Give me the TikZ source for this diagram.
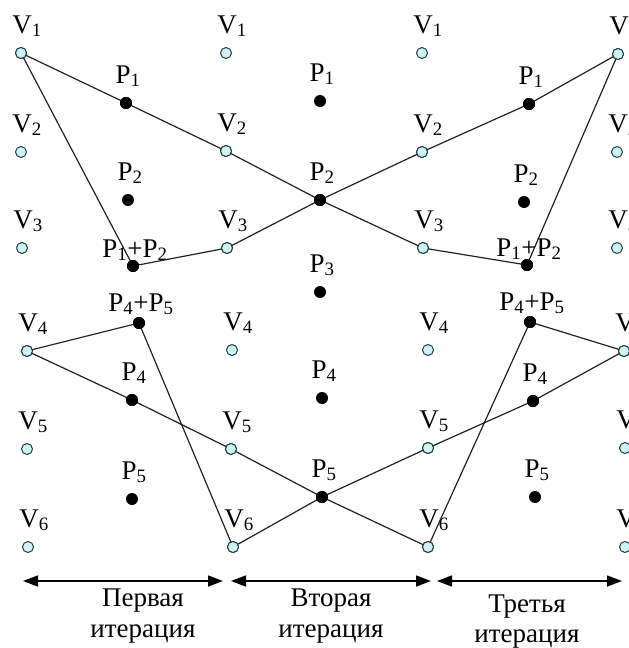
\documentclass[tikz,border=0pt]{standalone}
\usepackage{fontspec}
\setmainfont{Liberation Serif}
\usetikzlibrary{arrows.meta}
\definecolor{vfill}{HTML}{CDF3F3}
\definecolor{vline}{HTML}{1F3F45}
\definecolor{eline}{HTML}{222222}
\newcommand\vn[4]{\node[vnode] (#1) at (#2,#3) {};
  \node[lab] (#1l) at ([xshift=6pt,yshift=20pt]#1) {V\textsubscript{#4}};}
\newcommand\pn[5]{\node[pnode] (#1) at (#2,#3) {};
  \node[lab] (#1l) at ([xshift=2pt,yshift=#5]#1) {#4};}
\begin{document}
\begin{tikzpicture}[x=1pt,y=-1pt,
  vnode/.style={circle,draw=vline,fill=vfill,line width=1pt,minimum size=11pt,inner sep=0pt},
  pnode/.style={circle,fill=black,minimum size=12pt,inner sep=0pt},
  lab/.style={anchor=base,inner sep=0pt,font=\fontsize{27}{32}\selectfont},
  edge/.style={draw=eline,line width=1.2pt},
  spanarrow/.style={draw=black,line width=1.4pt,{Triangle[length=15pt,width=11pt]}-{Triangle[length=15pt,width=11pt]}},
  captext/.style={anchor=base,inner sep=0pt,font=\fontsize{27}{31}\selectfont}]
\useasboundingbox (0,0) rectangle (629,648);
% column 1
\vn{a1}{21}{53}{1}\vn{a2}{21}{152}{2}\vn{a3}{22}{248}{3}
\vn{a4}{27}{351}{4}\vn{a5}{27}{449}{5}\vn{a6}{28}{547}{6}
% column 2
\vn{b1}{226}{53}{1}\vn{b2}{226}{151}{2}\vn{b3}{227}{248}{3}
\vn{b4}{232}{350}{4}\vn{b5}{231}{449}{5}\vn{b6}{233}{547}{6}
% column 3
\vn{c1}{422}{53}{1}\vn{c2}{422}{152}{2}\vn{c3}{423}{248}{3}
\vn{c4}{428}{350}{4}\vn{c5}{428}{448}{5}\vn{c6}{428}{547}{6}
% column 4
\vn{d1}{618}{54}{1}\vn{d2}{617}{152}{2}\vn{d3}{617}{248}{3}
\vn{d4}{624}{351}{4}\vn{d5}{625}{448}{5}\vn{d6}{625}{547}{6}
% P nodes, first
\pn{p11}{126}{103}{P\textsubscript{1}}{20pt}
\pn{p12}{128}{200}{P\textsubscript{2}}{20pt}
\pn{p1s}{133}{266}{P\textsubscript{1}+P\textsubscript{2}}{9pt}
\pn{p1t}{139}{323}{P\textsubscript{4}+P\textsubscript{5}}{12pt}
\pn{p14}{132}{400}{P\textsubscript{4}}{20pt}
\pn{p15}{132}{499}{P\textsubscript{5}}{20pt}
% middle
\pn{m1}{320}{101}{P\textsubscript{1}}{20pt}
\pn{m2}{320}{200}{P\textsubscript{2}}{20pt}
\pn{m3}{320}{292}{P\textsubscript{3}}{20pt}
\pn{m4}{322}{398}{P\textsubscript{4}}{20pt}
\pn{m5}{322}{497}{P\textsubscript{5}}{20pt}
% third
\pn{q1}{529}{104}{P\textsubscript{1}}{20pt}
\pn{q2}{524}{202}{P\textsubscript{2}}{20pt}
\pn{qs}{527}{265}{P\textsubscript{1}+P\textsubscript{2}}{9pt}
\pn{qt}{530}{322}{P\textsubscript{4}+P\textsubscript{5}}{12pt}
\pn{q4}{533}{401}{P\textsubscript{4}}{20pt}
\pn{q5}{535}{497}{P\textsubscript{5}}{20pt}
% connectors
\draw[edge] (a1.center) -- (p11.center) -- (b2.center) -- (m2.center) -- (c3.center) -- (qs.center) -- (d1.center);
\draw[edge] (a1.center) -- (p1s.center) -- (b3.center) -- (m2.center) -- (c2.center) -- (q1.center) -- (d1.center);
\draw[edge] (a4.center) -- (p1t.center) -- (b6.center) -- (m5.center) -- (c5.center) -- (q4.center) -- (d4.center);
\draw[edge] (a4.center) -- (p14.center) -- (b5.center) -- (m5.center) -- (c6.center) -- (qt.center) -- (d4.center);
% redraw nodes on top of connectors
\foreach \n in {a1,a4,b2,b3,b5,b6,c2,c3,c5,c6,d1,d4}{\node[vnode] at (\n) {};}
\foreach \n in {p11,p1s,p1t,p14,m2,m5,q1,qs,qt,q4}{\node[pnode] at (\n) {};}
% spans
\coordinate (s0) at (23,581);
\coordinate (s1) at (223,581);
\coordinate (s2) at (231,581);
\coordinate (s3) at (431,581);
\coordinate (s4) at (437,581);
\coordinate (s5) at (622,581);
\draw[spanarrow] (s0) -- (s1);
\draw[spanarrow] (s2) -- (s3);
\draw[spanarrow] (s4) -- (s5);
\node[captext] (t1a) at (143,606) {Первая};
\node[captext] (t1b) at (143,637) {итерация};
\node[captext] (t2a) at (331,606) {Вторая};
\node[captext] (t2b) at (331,637) {итерация};
\node[captext] (t3a) at (527,612) {Третья};
\node[captext] (t3b) at (527,642) {итерация};
\end{tikzpicture}
\end{document}
